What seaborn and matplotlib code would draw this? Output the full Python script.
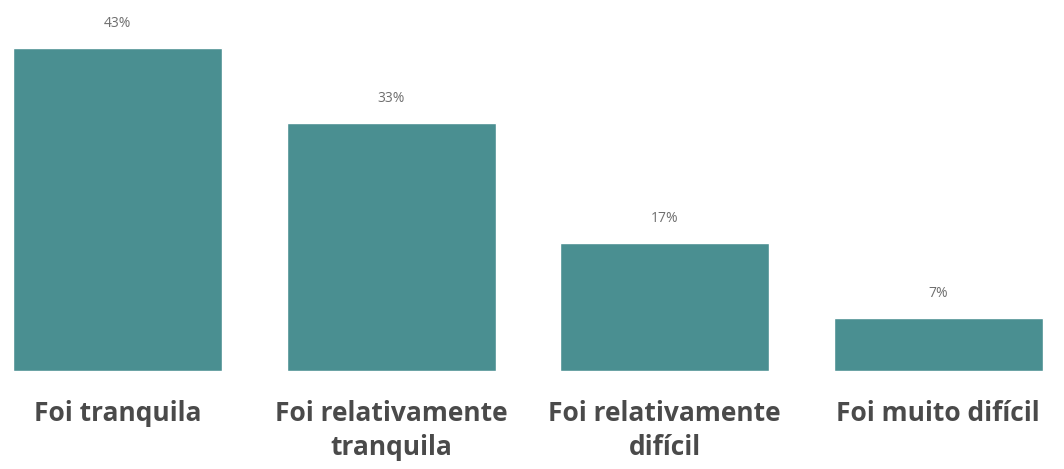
import matplotlib
matplotlib.use("Agg")
import matplotlib.pyplot as plt
import seaborn as sns
import pandas as pd

categories = ["Foi tranquila", "Foi relativamente\ntranquila", "Foi relativamente\ndifícil", "Foi muito difícil"]
values = [43, 33, 17, 7]
value_labels = ["43%", "33%", "17%", "7%"]

bar_color = "#4a8f91"

sns.set_theme(style="white")
plt.rcParams["font.family"] = ["Open Sans", "DejaVu Sans"]

fig = plt.figure(figsize=(10.64, 4.69), dpi=100)
ax = fig.add_axes([0.0, 0.209, 1.0, 0.791])

df = pd.DataFrame({"cat": categories, "val": values})
sns.barplot(data=df, x="cat", y="val", color=bar_color, saturation=1, width=0.764, ax=ax)

ax.set_xlim(-0.43, 3.46)
ax.set_ylim(0, 49.4)

# value labels above each bar
for i, (v, lab) in enumerate(zip(values, value_labels)):
    ax.annotate(lab, (i, v), xytext=(0, 18), textcoords="offset points",
                ha="center", va="center", fontsize=10, color="#6e6e6e")

ax.set_xlabel("")
ax.set_ylabel("")
ax.set_yticks([])
ax.tick_params(axis="x", length=0, pad=21)
for t in ax.get_xticklabels():
    t.set_fontsize(19)
    t.set_fontweight("bold")
    t.set_color("#4a4a4a")
    t.set_linespacing(1.32)
    t.set_verticalalignment("top")
sns.despine(ax=ax, left=True, bottom=True)

fig.savefig("out.png", dpi=100, facecolor="white")
